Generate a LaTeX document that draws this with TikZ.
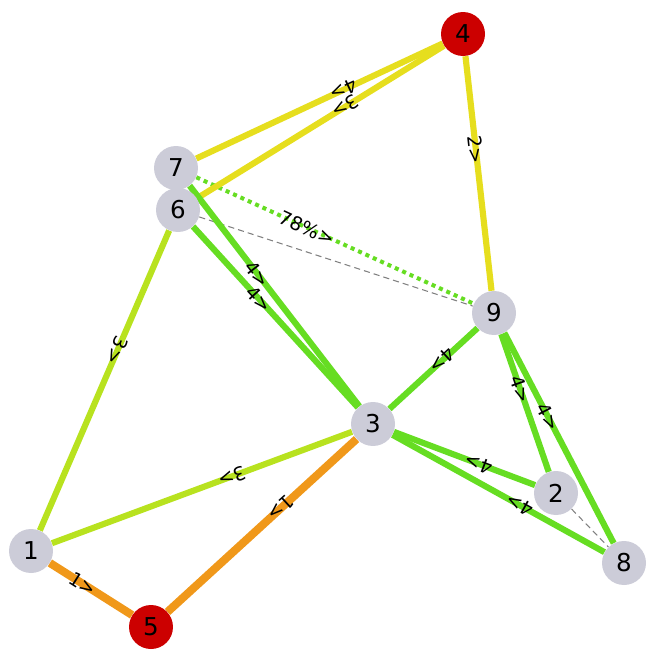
\documentclass[tikz,border=0pt]{standalone}
\usepackage{fontspec}
\setmainfont{DejaVu Sans}
\usetikzlibrary{backgrounds}
\definecolor{vgray}{RGB}{204,204,216}
\definecolor{vred}{RGB}{204,0,0}
\definecolor{eyellow}{RGB}{230,222,30}
\definecolor{egreen}{RGB}{102,221,34}
\definecolor{elime}{RGB}{184,226,31}
\definecolor{eorange}{RGB}{240,152,26}
\begin{document}
\begin{tikzpicture}[x=0.02cm,y=-0.02cm,
    vtx/.style={circle,fill=vgray,minimum size=0.88cm,inner sep=0pt,font=\fontsize{14}{14}\selectfont},
    hot/.style={vtx,fill=vred},
    lbl/.style={pos=0.4,sloped,allow upside down,inner sep=0pt,text=black,font=\fontsize{10.8}{10.8}\selectfont},
    thick edge/.style={line width=3.5pt},
    ghost/.style={gray,line width=0.6pt,dash pattern=on 3.5pt off 2.3pt}]
    \useasboundingbox (0,0) rectangle (651,662);

    \node[hot] (v4) at (463,34) {4};
    \node[vtx] (v7) at (176,168) {7};
    \node[vtx] (v6) at (178,210) {6};
    \node[vtx] (v9) at (494,313) {9};
    \node[vtx] (v3) at (373,424) {3};
    \node[vtx] (v2) at (556,493) {2};
    \node[vtx] (v8) at (624,563) {8};
    \node[vtx] (v1) at (31,551) {1};
    \node[hot] (v5) at (151,627) {5};

    \begin{scope}[on background layer]
    \draw[ghost] (v6) -- (v9);
    \draw[ghost] (v2) -- (v8);
    \draw[egreen,line width=2.3pt,dash pattern=on 2.3pt off 2.3pt] (v7) -- node[lbl] {78\%>} (v9);
    \draw[thick edge,eyellow] (v4) -- node[lbl] {4>} (v7);
    \draw[thick edge,eyellow] (v4) -- node[lbl] {3>} (v6);
    \draw[thick edge,eyellow] (v4) -- node[lbl] {2>} (v9);
    \draw[thick edge,egreen] (v7) -- node[lbl] {4>} (v3);
    \draw[thick edge,egreen] (v6) -- node[lbl] {4>} (v3);
    \draw[thick edge,elime] (v6) -- node[lbl] {3>} (v1);
    \draw[thick edge,egreen] (v9) -- node[lbl] {4>} (v3);
    \draw[thick edge,egreen] (v9) -- node[lbl] {4>} (v2);
    \draw[thick edge,egreen] (v9) -- node[lbl] {4>} (v8);
    \draw[thick edge,egreen] (v2) -- node[lbl] {4>} (v3);
    \draw[thick edge,egreen] (v8) -- node[lbl] {4>} (v3);
    \draw[thick edge,elime] (v3) -- node[lbl] {3>} (v1);
    \draw[thick edge,eorange,line width=4.6pt] (v3) -- node[lbl] {1>} (v5);
    \draw[thick edge,eorange,line width=4.6pt] (v1) -- node[lbl] {1>} (v5);
    \end{scope}
\end{tikzpicture}
\end{document}
